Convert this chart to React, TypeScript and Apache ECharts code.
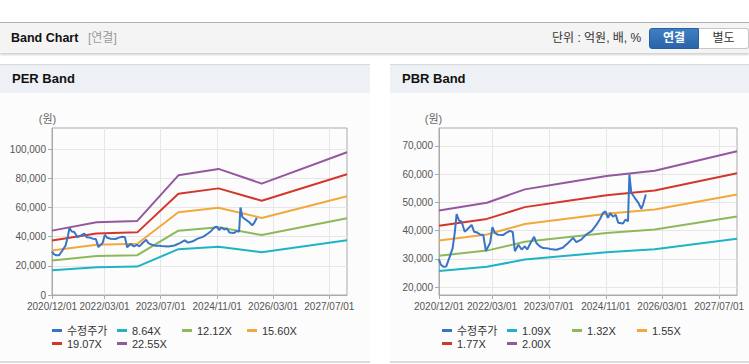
import React, { useEffect, useRef } from "react";
import * as echarts from "echarts";

const FONT = "'Liberation Sans', 'Noto Sans CJK KR', sans-serif";

// ---- axis labels ----
const xLabelDates = ["2020/12/01", "2022/03/01", "2023/07/01", "2024/11/01", "2026/03/01", "2027/07/01"];
const xStart = "2020-12-01";
const xEnd = "2027-12-01";
const perYTicks = [0, 20000, 40000, 60000, 80000, 100000];
const pbrYTicks = [20000, 30000, 40000, 50000, 60000, 70000];

// ---- adjusted price (수정주가) ----
const priceDates = [
  "2020-12-01", "2020-12-16", "2021-01-07", "2021-02-01", "2021-03-01", "2021-03-28", "2021-04-16", "2021-05-01",
  "2021-05-22", "2021-06-12", "2021-07-10", "2021-08-10", "2021-09-07", "2021-09-28", "2021-10-25", "2021-11-19",
  "2021-12-16", "2022-01-07", "2022-02-13", "2022-03-04", "2022-03-25", "2022-04-22", "2022-06-04", "2022-07-04",
  "2022-08-01", "2022-08-25", "2022-09-13", "2022-10-13", "2022-11-10", "2022-12-07", "2022-12-28", "2023-01-25",
  "2023-02-25", "2023-03-16", "2023-04-16", "2023-05-13", "2023-06-25", "2023-07-07", "2023-09-04", "2023-10-28",
  "2023-12-13", "2024-01-25", "2024-02-22", "2024-04-04", "2024-05-16", "2024-07-01", "2024-08-13", "2024-09-10",
  "2024-10-07", "2024-10-28", "2024-11-19", "2024-12-10", "2025-01-01", "2025-01-25", "2025-02-15", "2025-03-28",
  "2025-04-19", "2025-05-10", "2025-05-22", "2025-06-07", "2025-07-07", "2025-08-04", "2025-09-01", "2025-09-16",
  "2025-10-10",
];
const priceValues = [
  29800, 28000, 27200, 27300, 30500, 33800, 39500, 45800,
  43500, 43200, 39600, 40800, 42000, 39600, 39300, 38600,
  38400, 32800, 35700, 41200, 39200, 38500, 38400, 39300,
  39900, 39500, 32700, 35000, 33300, 34400, 33300, 35600,
  37800, 35600, 34400, 33800, 33700, 33500, 33200, 33900,
  35600, 37400, 35900, 36800, 38600, 39800, 42100, 43900,
  46200, 46800, 44500, 46200, 44900, 45600, 42800, 42500,
  43900, 43300, 59900, 53400, 51600, 50000, 47700, 49200,
  52800,
];

// ---- PER bands ----
const perNames = ["8.64X", "12.12X", "15.60X", "19.07X", "22.55X"];
const perBandDates = ["2020-12-01", "2021-12-22", "2022-12-10", "2023-12-01", "2024-11-13", "2025-11-22", "2027-12-01"];
const per864 = [16890, 19090, 19440, 31410, 33090, 29250, 37450];
const per1212 = [23690, 26790, 27270, 44060, 46420, 41030, 52540];
const per1560 = [30500, 34480, 35100, 56710, 59750, 52810, 67630];
const per1907 = [37280, 42140, 42910, 69320, 73040, 64550, 82670];
const per2255 = [44090, 49840, 50740, 81970, 86370, 76330, 97750];

// ---- PBR bands ----
const pbrNames = ["1.09X", "1.32X", "1.55X", "1.77X", "2.00X"];
const pbrBandDates = ["2020-12-01", "2022-01-16", "2022-12-07", "2023-12-01", "2024-11-07", "2025-12-25", "2027-12-01"];
const pbr109 = [25670, 27170, 29750, 31080, 32320, 33350, 37110];
const pbr132 = [31090, 32910, 36020, 37630, 39140, 40390, 44950];
const pbr155 = [36500, 38640, 42300, 44190, 45960, 47430, 52780];
const pbr177 = [41680, 44130, 48300, 50460, 52480, 54160, 60270];
const pbr200 = [47100, 49860, 54580, 57020, 59300, 61200, 68100];

const PRICE_NAME = "수정주가";
const PRICE_COLOR = "#3a74c5";
const BAND_COLORS = ["#1fb3c6", "#8db95a", "#f2a93b", "#d3372c", "#95589f"];

function T(s: string): number {
  const [y, m, d] = s.split(/[-/]/).map(Number);
  return new Date(y, m - 1, d).getTime();
}
function pad(n: number) {
  return n < 10 ? "0" + n : "" + n;
}
function fmtDate(v: number) {
  const d = new Date(v);
  return `${d.getFullYear()}/${pad(d.getMonth() + 1)}/${pad(d.getDate())}`;
}
function fmtNum(v: number) {
  return String(Math.round(v)).replace(/\B(?=(\d{3})+(?!\d))/g, ",");
}
function zip(dates: string[], vals: number[]) {
  return dates.map((d, i) => [T(d), vals[i]]);
}

const xTicks = xLabelDates.map(T);

function xAxisFor(gridIndex: number) {
  return {
    type: "value",
    gridIndex,
    min: T(xStart),
    max: T(xEnd),
    axisLine: { show: true, lineStyle: { color: "#aaaaaa" } },
    axisTick: { show: true, length: 4, customValues: xTicks, lineStyle: { color: "#aaaaaa" } },
    axisLabel: {
      customValues: xTicks,
      formatter: (v: number) => fmtDate(v),
      margin: 6,
      fontSize: 10,
      fontFamily: FONT,
      color: "#555555",
      hideOverlap: false,
    },
    splitLine: { show: true, lineStyle: { color: "#e6e6e6", width: 1 } },
  };
}
function yAxisFor(gridIndex: number, min: number, max: number, ticks: number[]) {
  return {
    type: "value",
    gridIndex,
    min,
    max,
    axisLine: { show: true, lineStyle: { color: "#aaaaaa" } },
    axisTick: { show: true, length: 4, customValues: ticks, lineStyle: { color: "#aaaaaa" } },
    axisLabel: {
      customValues: ticks,
      formatter: (v: number) => fmtNum(v),
      margin: 6,
      fontSize: 10,
      fontFamily: FONT,
      color: "#555555",
    },
    splitLine: { show: true, lineStyle: { color: "#e6e6e6", width: 1 } },
  };
}
function lineSeries(name: string, idx: number, data: any[], color: string, z: number) {
  return {
    type: "line",
    name,
    xAxisIndex: idx,
    yAxisIndex: idx,
    data,
    showSymbol: false,
    symbol: "none",
    lineStyle: { width: 2, color },
    itemStyle: { color },
    z,
    silent: true,
  };
}

function legendFor(left: number, names: string[]) {
  return {
    left,
    top: 324,
    width: 262,
    padding: 0,
    itemWidth: 10,
    itemHeight: 3,
    itemGap: 0,
    icon: "rect",
    selectedMode: false,
    data: [PRICE_NAME, ...names],
    textStyle: { fontSize: 11, color: "#333333", fontFamily: FONT, width: 50, lineHeight: 13 },
  };
}

function buildOption() {
  const perVals = [per864, per1212, per1560, per1907, per2255];
  const pbrVals = [pbr109, pbr132, pbr155, pbr177, pbr200];
  const series: any[] = [];
  perNames.forEach((n, i) => series.push(lineSeries(n, 0, zip(perBandDates, perVals[i]), BAND_COLORS[i], 2)));
  series.push(lineSeries(PRICE_NAME, 0, zip(priceDates, priceValues), PRICE_COLOR, 3));
  pbrNames.forEach((n, i) => series.push(lineSeries(n, 1, zip(pbrBandDates, pbrVals[i]), BAND_COLORS[i], 2)));
  series.push(lineSeries(PRICE_NAME, 1, zip(priceDates, priceValues), PRICE_COLOR, 3));

  return {
    animation: false,
    backgroundColor: "transparent",
    grid: [
      { left: 52, top: 128, width: 295, height: 167, show: true, borderColor: "#aaaaaa", borderWidth: 1, backgroundColor: "transparent" },
      { left: 439, top: 128, width: 298, height: 167, show: true, borderColor: "#aaaaaa", borderWidth: 1, backgroundColor: "transparent" },
    ],
    xAxis: [xAxisFor(0), xAxisFor(1)],
    yAxis: [yAxisFor(0, 0, 114400, perYTicks), yAxisFor(1, 17200, 76300, pbrYTicks)],
    legend: [legendFor(52, perNames), legendFor(442, pbrNames)],
    graphic: [
      { type: "text", x: 47.5, y: 119, style: { text: "(원)", fontSize: 11, fontFamily: FONT, fill: "#666666", align: "center", verticalAlign: "middle" } },
      { type: "text", x: 433.5, y: 119, style: { text: "(원)", fontSize: 11, fontFamily: FONT, fill: "#666666", align: "center", verticalAlign: "middle" } },
    ],
    series,
  };
}

function Panel({ left, width, title }: { left: number; width: number; title: string }) {
  return (
    <div style={{ position: "absolute", left, top: 64, width, height: 299 }}>
      <div style={{ position: "absolute", left: 0, top: 0, width, height: 1, background: "#d9d9d9" }} />
      <div
        style={{
          position: "absolute", left: 0, top: 1, width, height: 28, background: "#edf1f6",
          fontWeight: "bold", fontSize: 13, color: "#111", lineHeight: "28px", paddingLeft: 0,
        }}
      >
        <span style={{ position: "absolute", left: 12, top: 0 }}>{title}</span>
      </div>
      <div style={{ position: "absolute", left: 0, top: 29, width, height: 268, background: "#fcfcfc" }} />
      <div style={{ position: "absolute", left: 0, top: 297, width, height: 2, background: "#dddddd" }} />
    </div>
  );
}

export default function App() {
  const ref = useRef<HTMLDivElement>(null);
  useEffect(() => {
    if (!ref.current) return;
    const chart = echarts.init(ref.current, null, { renderer: "svg" });
    chart.setOption(buildOption() as any);
    return () => chart.dispose();
  }, []);
  return (
    <div
      style={{
        position: "fixed", left: 0, top: 0, width: 749, height: 364, background: "#ffffff",
        overflow: "hidden", fontFamily: FONT,
      }}
    >
      <div style={{ position: "absolute", left: 0, top: 22, width: 749, height: 1, background: "#b0b0b0" }} />
      <div
        style={{
          position: "absolute", left: 0, top: 23, width: 749, height: 30, background: "#f4f4f4",
          boxShadow: "0 2px 2px rgba(0,0,0,0.18)",
        }}
      >
        <span style={{ position: "absolute", left: 11, top: 0, lineHeight: "30px", fontWeight: "bold", fontSize: 12.5, color: "#111" }}>
          Band Chart
        </span>
        <span style={{ position: "absolute", left: 88, top: 0, lineHeight: "30px", fontSize: 12, color: "#999" }}>[연결]</span>
        <span style={{ position: "absolute", left: 552, top: 0, lineHeight: "30px", fontSize: 12, color: "#333" }}>
          단위 : 억원, 배, %
        </span>
        <div
          style={{
            position: "absolute", left: 649, top: 5, width: 50, height: 21, boxSizing: "border-box",
            background: "linear-gradient(#3f7fc4, #2b64a8)", border: "1px solid #2a5f9e", borderRadius: "3px 0 0 3px",
            color: "#fff", fontWeight: "bold", fontSize: 12, textAlign: "center", lineHeight: "19px",
          }}
        >
          연결
        </div>
        <div
          style={{
            position: "absolute", left: 699, top: 5, width: 50, height: 21, boxSizing: "border-box",
            background: "#ffffff", border: "1px solid #c6c6c6", borderLeft: "none", borderRadius: "0 3px 3px 0",
            color: "#333", fontSize: 12, textAlign: "center", lineHeight: "19px",
          }}
        >
          별도
        </div>
      </div>
      <Panel left={0} width={370} title="PER Band" />
      <Panel left={390} width={359} title="PBR Band" />
      <div ref={ref} style={{ position: "absolute", left: 0, top: 0, width: 749, height: 364 }} />
    </div>
  );
}
